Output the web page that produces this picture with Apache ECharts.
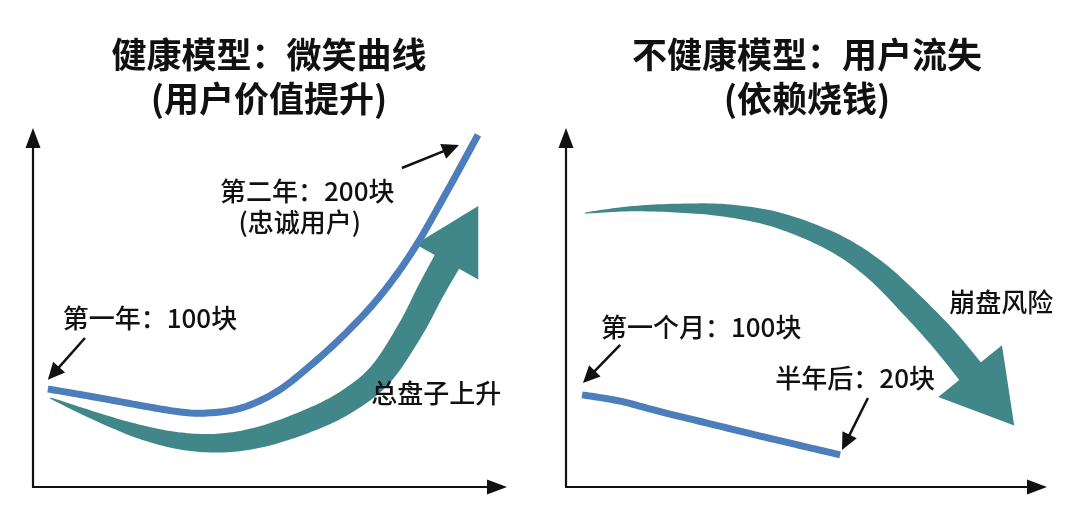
<!DOCTYPE html>
<html>
<head>
<meta charset="utf-8">
<script src="https://cdn.jsdelivr.net/npm/echarts@6/dist/echarts.min.js"></script>
<style>
  html, body { margin: 0; padding: 0; background: #fff; }
  #main { width: 1080px; height: 522px; }
</style>
</head>
<body>
<div id="main"></div>
<script>
// ---- 左图：健康模型（微笑曲线） ----
var smileX = [3.2, 14.4, 22.6, 31.7, 37.5, 44.8, 52.4, 59.7, 67.2, 74.8, 82.1, 89.4, 95.9];
var smileY = [28.1, 25.5, 23.5, 21.5, 21.2, 22.6, 27.2, 34.7, 43.8, 54.7, 68.2, 85.1, 100.9];
var growX = [3.7, 14.4, 23.1, 31.7, 40.3, 48.9, 58.6, 67.2, 74.8, 81.3, 85.6, 89.2];
var growY = [25.5, 19.8, 15.8, 13.2, 12.6, 14.3, 18.6, 24.1, 32.1, 45.0, 55.9, 64.5];
var leftNotes = ['第一年：100块', '第二年：200块', '(忠诚用户)', '总盘子上升'];
var leftNoteX = [25.2, 59.1, 57.5, 86.9];
var leftNoteY = [48.4, 84.8, 75.9, 26.9];
var leftPtrFrom = [[11.2, 42.7], [79.5, 91.4]];
var leftPtrTo = [[3.2, 30.7], [91.8, 98.0]];

// ---- 右图：不健康模型（用户流失） ----
var churnX = [3.4, 11.5, 20.0, 30.6, 41.2, 49.7, 58.2];
var churnY = [26.4, 24.6, 21.6, 18.1, 14.6, 11.9, 9.2];
var fallX = [4.0, 13.6, 24.2, 34.8, 45.6, 57.1, 65.6, 73.0, 79.8, 85.8];
var fallY = [78.5, 79.7, 79.9, 79.1, 76.2, 69.9, 62.2, 52.7, 43.0, 33.2];
var rightNotes = ['第一个月：100块', '半年后：20块', '崩盘风险'];
var rightNoteX = [28.7, 61.4, 92.4];
var rightNoteY = [45.8, 31.2, 53.0];
var rightPtrFrom = [[11.5, 40.7], [64.1, 25.5]];
var rightPtrTo = [[3.6, 29.8], [58.6, 10.6]];

var titles = ['健康模型：微笑曲线\n(用户价值提升)', '不健康模型：用户流失\n(依赖烧钱)'];

// 样式
var BLUE = '#4c7ebc';
var TEAL = '#41878a';
var INK = '#111111';
var FONT = '"Noto Sans CJK SC", "Noto Sans", sans-serif';
var growBand = [1, 9, 14, 17, 19, 21, 23, 24, 25, 26, 27, 28];
var fallBand = [1, 5, 9, 13, 16, 19, 22, 25, 27, 28];

function catmull(pts, ws, steps) {
  var out = [], outW = [];
  for (var i = 0; i < pts.length - 1; i++) {
    var p0 = pts[Math.max(i - 1, 0)], p1 = pts[i], p2 = pts[i + 1], p3 = pts[Math.min(i + 2, pts.length - 1)];
    for (var s = 0; s < steps; s++) {
      var t = s / steps, t2 = t * t, t3 = t2 * t;
      var pt = [0, 1].map(function (k) {
        return 0.5 * (2 * p1[k] + (-p0[k] + p2[k]) * t +
          (2 * p0[k] - 5 * p1[k] + 4 * p2[k] - p3[k]) * t2 +
          (-p0[k] + 3 * p1[k] - 3 * p2[k] + p3[k]) * t3);
      });
      out.push(pt);
      outW.push(ws ? ws[i] + (ws[i + 1] - ws[i]) * t : 0);
    }
  }
  out.push(pts[pts.length - 1]);
  outW.push(ws ? ws[ws.length - 1] : 0);
  return { pts: out, w: outW };
}

// 平滑细线（用户价值）
function curveItem(xs, ys) {
  return function (params, api) {
    var pts = xs.map(function (x, i) { return api.coord([x, ys[i]]); });
    var c = catmull(pts, null, 12);
    return { type: 'polyline', shape: { points: c.pts },
      style: { stroke: BLUE, lineWidth: 7, fill: null, lineCap: 'butt', lineJoin: 'round' } };
  };
}

// 粗箭头（渐宽带 + 三角箭头）
function bandItem(xs, ys, ws, headW, headL) {
  return function (params, api) {
    var pts = xs.map(function (x, i) { return api.coord([x, ys[i]]); });
    var c = catmull(pts, ws, 12);
    var L = [], R = [];
    for (var i = 0; i < c.pts.length; i++) {
      var a = c.pts[Math.max(i - 1, 0)], b = c.pts[Math.min(i + 1, c.pts.length - 1)];
      var dx = b[0] - a[0], dy = b[1] - a[1], len = Math.hypot(dx, dy) || 1;
      var nx = -dy / len, ny = dx / len, h = c.w[i] / 2, p = c.pts[i];
      L.push([p[0] + nx * h, p[1] + ny * h]);
      R.push([p[0] - nx * h, p[1] - ny * h]);
    }
    var n = c.pts.length, e = c.pts[n - 1], q = c.pts[n - 4];
    var ddx = e[0] - q[0], ddy = e[1] - q[1], dl = Math.hypot(ddx, ddy) || 1;
    ddx /= dl; ddy /= dl;
    var mx = -ddy, my = ddx;
    var head = [
      [e[0] + mx * headW / 2, e[1] + my * headW / 2],
      [e[0] + ddx * headL, e[1] + ddy * headL],
      [e[0] - mx * headW / 2, e[1] - my * headW / 2]
    ];
    var poly = L.concat(head).concat(R.reverse());
    return { type: 'polygon', shape: { points: poly }, style: { fill: TEAL } };
  };
}

// 细指示箭头
function pointerItem(from, to) {
  return function (params, api) {
    var i = params.dataIndex;
    var p1 = api.coord(from[i]), p2 = api.coord(to[i]);
    var dx = p2[0] - p1[0], dy = p2[1] - p1[1], len = Math.hypot(dx, dy);
    dx /= len; dy /= len;
    var hl = 17, hw = 8;
    var base = [p2[0] - dx * hl, p2[1] - dy * hl];
    return {
      type: 'group',
      children: [
        { type: 'line', shape: { x1: p1[0], y1: p1[1], x2: base[0] + dx * 2, y2: base[1] + dy * 2 },
          style: { stroke: INK, lineWidth: 2.5 } },
        { type: 'polygon', shape: { points: [p2, [base[0] - dy * hw, base[1] + dx * hw], [base[0] + dy * hw, base[1] - dx * hw]] },
          style: { fill: INK } }
      ]
    };
  };
}

function noteItem(texts) {
  return function (params, api) {
    var p = api.coord([api.value(0), api.value(1)]);
    return {
      type: 'text', x: p[0], y: p[1],
      style: { text: texts[params.dataIndex], fill: INK, font: '500 26px ' + FONT, align: 'center', verticalAlign: 'middle' }
    };
  };
}

function axisPair(idx) {
  return {
    type: 'value', gridIndex: idx, min: 0, max: 100,
    axisLabel: { show: false }, axisTick: { show: false }, splitLine: { show: false },
    axisLine: { show: true, onZero: false, symbol: ['none', 'triangle'], symbolSize: [15, 20],
      lineStyle: { color: INK, width: 2.2 } }
  };
}

var chart = echarts.init(document.getElementById('main'));
chart.setOption({
  backgroundColor: '#ffffff',
  animation: false,
  title: [
    { text: titles[0], left: 264, top: 28, textAlign: 'center',
      textStyle: { fontFamily: FONT, fontSize: 35, fontWeight: 'bold', color: INK, lineHeight: 44 } },
    { text: titles[1], left: 802, top: 28, textAlign: 'center',
      textStyle: { fontFamily: FONT, fontSize: 35, fontWeight: 'bold', color: INK, lineHeight: 44 } }
  ],
  grid: [
    { left: 33, top: 138, width: 464, height: 349 },
    { left: 566, top: 138, width: 471, height: 349 }
  ],
  xAxis: [axisPair(0), axisPair(1)],
  yAxis: [axisPair(0), axisPair(1)],
  series: [
    { type: 'custom', xAxisIndex: 0, yAxisIndex: 0, clip: false, silent: true,
      data: [[growX[0], growY[0]]], renderItem: bandItem(growX, growY, growBand, 72, 64) },
    { type: 'custom', xAxisIndex: 0, yAxisIndex: 0, clip: false, silent: true, z: 3,
      data: [[smileX[0], smileY[0]]], renderItem: curveItem(smileX, smileY) },
    { type: 'custom', xAxisIndex: 0, yAxisIndex: 0, clip: false, silent: true,
      data: leftPtrFrom, renderItem: pointerItem(leftPtrFrom, leftPtrTo), z: 4 },
    { type: 'custom', xAxisIndex: 0, yAxisIndex: 0, clip: false, silent: true,
      data: leftNoteX.map(function (x, i) { return [x, leftNoteY[i]]; }), renderItem: noteItem(leftNotes), z: 5 },

    { type: 'custom', xAxisIndex: 1, yAxisIndex: 1, clip: false, silent: true,
      data: [[fallX[0], fallY[0]]], renderItem: bandItem(fallX, fallY, fallBand, 82, 70) },
    { type: 'custom', xAxisIndex: 1, yAxisIndex: 1, clip: false, silent: true, z: 3,
      data: [[churnX[0], churnY[0]]], renderItem: curveItem(churnX, churnY) },
    { type: 'custom', xAxisIndex: 1, yAxisIndex: 1, clip: false, silent: true,
      data: rightPtrFrom, renderItem: pointerItem(rightPtrFrom, rightPtrTo), z: 4 },
    { type: 'custom', xAxisIndex: 1, yAxisIndex: 1, clip: false, silent: true,
      data: rightNoteX.map(function (x, i) { return [x, rightNoteY[i]]; }), renderItem: noteItem(rightNotes), z: 5 }
  ]
});
</script>
</body>
</html>
